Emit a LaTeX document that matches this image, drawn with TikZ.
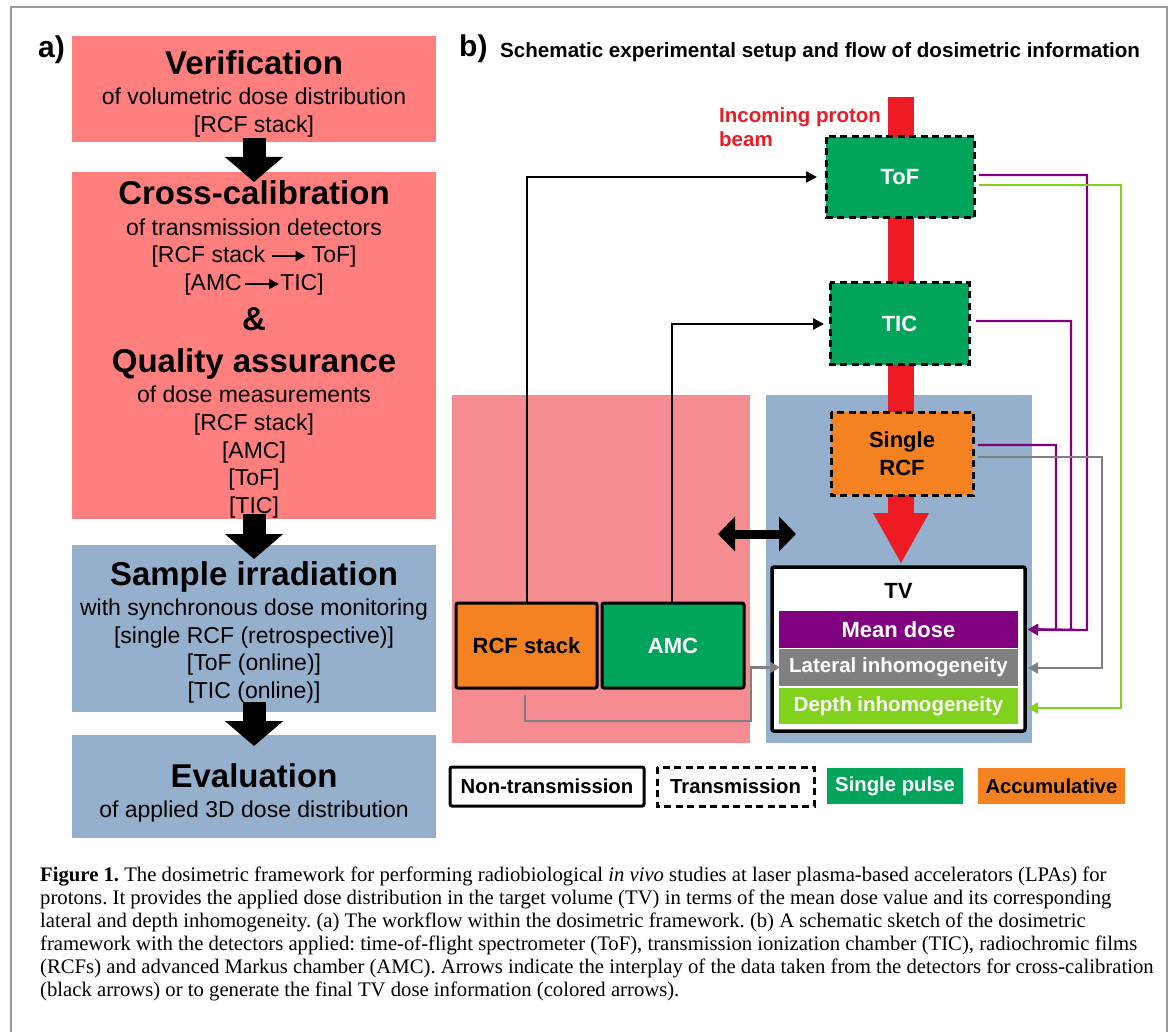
\documentclass[tikz,border=0pt]{standalone}
\usepackage{fontspec}
\setmainfont{Liberation Sans}
\newfontfamily\capfont{Liberation Serif}
\usetikzlibrary{arrows.meta,calc}
\definecolor{apink}{HTML}{FF7F7F}
\definecolor{bpink}{HTML}{F48C91}
\definecolor{ablue}{HTML}{95B0CC}
\definecolor{dgreen}{HTML}{00A55B}
\definecolor{dorange}{HTML}{F58220}
\definecolor{dpurple}{HTML}{800080}
\definecolor{lgreen}{HTML}{80D21C}
\definecolor{beamred}{HTML}{ED1C24}
\definecolor{framegray}{HTML}{9A9A9A}
\definecolor{dgray}{HTML}{808080}
\newcommand\fs[1]{\fontsize{#1}{#1}\selectfont}
\newcommand\inarrow{\tikz[baseline=-7pt]\draw[line width=2.5pt,-{Triangle[length=10pt,width=10pt]}] (0,0)--(34pt,0);}
\begin{document}
\begin{tikzpicture}[x=1pt,y=-1pt,
  abox/.style={minimum width=364pt, inner sep=0pt, outer sep=0pt},
  head/.style={anchor=base, font=\bfseries\fs{33}, inner sep=0pt},
  body/.style={anchor=base, font=\fs{23}, inner sep=0pt},
  bigarrow/.style={line width=23pt, -{Triangle[length=25pt,width=57pt]}},
  det/.style={inner sep=0pt, outer sep=0pt, font=\bfseries\fs{22}, align=center},
  transbox/.style={draw=black, line width=3pt, dash pattern=on 7pt off 4.5pt},
  solidbox/.style={draw=black, line width=3pt, rounded corners=2pt},
  bar/.style={inner sep=0pt, outer sep=0pt, minimum width=239pt, text=white, font=\bfseries\fs{20.5}},
  blk/.style={black, line width=2.3pt, -{Triangle[length=11pt,width=11pt]}},
  col/.style={line width=2.3pt, -{Triangle[length=10pt,width=11pt]}},
  leg/.style={inner sep=0pt, outer sep=0pt, font=\bfseries\fs{20.3}, minimum height=36pt},
  capline/.style={anchor=base west, inner sep=0pt, font=\capfont\fs{20.7}\frenchspacing}
]
\useasboundingbox (0,0) rectangle (1173,1032);
\fill[white] (0,0) rectangle (1173,1032);
% frame
\draw[framegray, line width=1.6pt] (11,1032) -- (11,7) -- (1167,7) -- (1167,1032);

% ---------------- panel a ----------------
\node[anchor=base west, inner sep=0pt, font=\bfseries\fs{30}] (la) at (38,58) {a)};
\node[abox, fill=apink, minimum height=106pt] (b1) at (254,89) {};
\node[abox, fill=apink, minimum height=347pt] (b2) at (254,345.5) {};
\node[abox, fill=ablue, minimum height=167pt] (b3) at (254,628.5) {};
\node[abox, fill=ablue, minimum height=103pt] (b4) at (254,786.5) {};

\node[head] (t11) at (254,75) {Verification};
\node[body] (t12) at (254,105) {of volumetric dose distribution};
\node[body] (t13) at (254,133) {[RCF stack]};

\node[head] (t21) at (254,205) {Cross-calibration};
\node[body] (t22) at (254,236) {of transmission detectors};
\node[body] (t23) at (254,263) {[RCF stack\hspace{5pt}\inarrow\hspace{5pt}ToF]};
\node[body] (t24) at (254,291) {[AMC\hspace{2pt}\inarrow\hspace{0pt}TIC]};
\node[head] (t25) at (254,331) {\&};
\node[head] (t26) at (254,372) {Quality assurance};
\node[body] (t27) at (254,402) {of dose measurements};
\node[body] (t28) at (254,430) {[RCF stack]};
\node[body] (t29) at (254,458) {[AMC]};
\node[body] (t2a) at (254,485) {[ToF]};
\node[body] (t2b) at (254,513) {[TIC]};

\node[head] (t31) at (254,585) {Sample irradiation};
\node[body] (t32) at (254,615) {with synchronous dose monitoring};
\node[body] (t33) at (254,643) {[single RCF (retrospective)]};
\node[body] (t34) at (254,670) {[ToF (online)]};
\node[body] (t35) at (254,698) {[TIC (online)]};

\node[head] (t41) at (254,787) {Evaluation};
\node[body] (t42) at (254,817) {of applied 3D dose distribution};

\draw[bigarrow] ([yshift=4pt]b1.south) -- ([yshift=-10pt]b2.north);
\draw[bigarrow] ([yshift=5pt]b2.south) -- ([yshift=-14pt]b3.north);
\draw[bigarrow] ([yshift=10pt]b3.south) -- ([yshift=-11pt]b4.north);

% ---------------- panel b ----------------
\node[anchor=base west, inner sep=0pt, font=\bfseries\fs{30}] (lb) at (459,57) {b)};
\node[anchor=base west, inner sep=0pt, font=\bfseries\fs{20.6}] (title) at (500,58) {Schematic experimental setup and flow of dosimetric information};

\node[fill=bpink, inner sep=0pt, outer sep=0pt, minimum width=298pt, minimum height=348pt] (zoneA) at (601,569) {};
\node[fill=ablue, inner sep=0pt, outer sep=0pt, minimum width=266pt, minimum height=348pt] (zoneB) at (899,569) {};

% proton beam
\coordinate (beamtop) at (901,97);
\coordinate (beamtip) at (901,564);
\draw[beamred, line width=26pt, -{Triangle[length=51pt,width=52pt]}] (beamtop) -- (beamtip);
\node[anchor=base west, inner sep=0pt, text=beamred, font=\bfseries\fs{20.5}] (inc) at (719,123) {Incoming proton};
\node[anchor=base west, inner sep=0pt, text=beamred, font=\bfseries\fs{20.5}] (beam) at (719,147) {beam};

% detectors
\node[det, fill=dgreen, text=white, minimum width=148pt, minimum height=81pt] (tof) at (900,177.5) {ToF};
\draw[transbox] (tof.north west) rectangle (tof.south east);
\node[det, fill=dgreen, text=white, minimum width=139pt, minimum height=82pt] (tic) at (899.5,324) {TIC};
\draw[transbox] (tic.north west) rectangle (tic.south east);
\node[det, fill=dorange, text=black, minimum width=142pt, minimum height=83pt, font={\bfseries\fontsize{22}{27.5}\selectfont}] (srcf) at (902,453.5) {Single\\RCF};
\draw[transbox] (srcf.north west) rectangle (srcf.south east);

\node[det, solidbox, fill=dorange, text=black, minimum width=141pt, minimum height=85pt] (rcfs) at (526.5,645.5) {RCF stack};
\node[det, solidbox, fill=dgreen, text=white, minimum width=142pt, minimum height=85pt] (amc) at (673,645.5) {AMC};

\node[solidbox, fill=white, inner sep=0pt, outer sep=0pt, minimum width=253pt, minimum height=164pt, line width=3.5pt] (tv) at (898.5,649) {};
\node[anchor=base, inner sep=0pt, font=\bfseries\fs{22}] (tvl) at (898.5,598) {TV};
\node[bar, fill=dpurple, minimum height=37pt, font=\bfseries\fs{22}] (mean) at (898.5,629.5) {Mean dose};
\node[bar, fill=dgray, minimum height=37pt] (lat) at (898.5,667.5) {Lateral inhomogeneity};
\node[bar, fill=lgreen, minimum height=36pt] (depth) at (898.5,706) {Depth inhomogeneity};

% black cross-calibration arrows
\draw[blk] ([xshift=0.5pt]rcfs.north) |- ([xshift=-9pt,yshift=0.5pt]tof.west);
\draw[blk] ([xshift=-1pt]amc.north) |- ([xshift=-6pt]tic.west);

% colored arrows
\draw[col, dpurple] ([xshift=5pt,yshift=2.5pt]tof.east) -| (1087,630) -- ([xshift=3pt]tv.east |- mean.east);
\draw[col, lgreen] ([xshift=5pt,yshift=-7.5pt]tof.east) -| (1121,708) -- ([xshift=3pt]tv.east |- 0,708);
\draw[col, dpurple] ([xshift=7pt,yshift=3pt]tic.east) -| (1071,630) -- ([xshift=3pt]tv.east |- mean.east);
\draw[col, dpurple] ([xshift=5pt,yshift=8.5pt]srcf.east) -| (1056,630) -- ([xshift=3pt]tv.east |- mean.east);
\draw[col, dgray] ([xshift=5pt,yshift=-3.5pt]srcf.east) -| (1102,668) -- ([xshift=3pt]tv.east |- 0,668);
\draw[col, dgray] ([xshift=-1.5pt,yshift=-7pt]rcfs.south) |- (751,721) |- ([xshift=1pt]lat.west);

% double arrow
\coordinate (dl) at (718,534);
\coordinate (dr) at (796,534);
\draw[black, line width=9pt, {Triangle[length=17pt,width=34pt]}-{Triangle[length=17pt,width=34pt]}] (dl) -- (dr);

% legend
\node[leg, fill=white, minimum width=194pt, minimum height=39pt] (lnon) at (547,786.5) {Non-transmission};
\draw[solidbox] (lnon.north west) rectangle (lnon.south east);
\node[leg, fill=white, minimum width=157pt, minimum height=39pt] (ltrans) at (735.5,786.5) {Transmission};
\draw[transbox] (ltrans.north west) rectangle (ltrans.south east);
\node[leg, fill=dgreen, text=white, minimum width=136pt] (lsingle) at (895,786) {Single pulse};
\node[leg, fill=dorange, text=black, minimum width=147pt] (lacc) at (1051.5,786) {Accumulative};

% caption
\node[capline] (c1) at (40,881) {\textbf{Figure 1.} The dosimetric framework for performing radiobiological \textit{in vivo} studies at laser plasma-based accelerators (LPAs) for};
\node[capline] (c2) at (40,904) {protons. It provides the applied dose distribution in the target volume (TV) in terms of the mean dose value and its corresponding};
\node[capline] (c3) at (40,927) {lateral and depth inhomogeneity. (a) The workflow within the dosimetric framework. (b) A schematic sketch of the dosimetric};
\node[capline] (c4) at (40,950) {framework with the detectors applied: time-of-flight spectrometer (ToF), transmission ionization chamber (TIC), radiochromic films};
\node[capline] (c5) at (40,973) {(RCFs) and advanced Markus chamber (AMC). Arrows indicate the interplay of the data taken from the detectors for cross-calibration};
\node[capline] (c6) at (40,996) {(black arrows) or to generate the final TV dose information (colored arrows).};
\end{tikzpicture}
\end{document}
